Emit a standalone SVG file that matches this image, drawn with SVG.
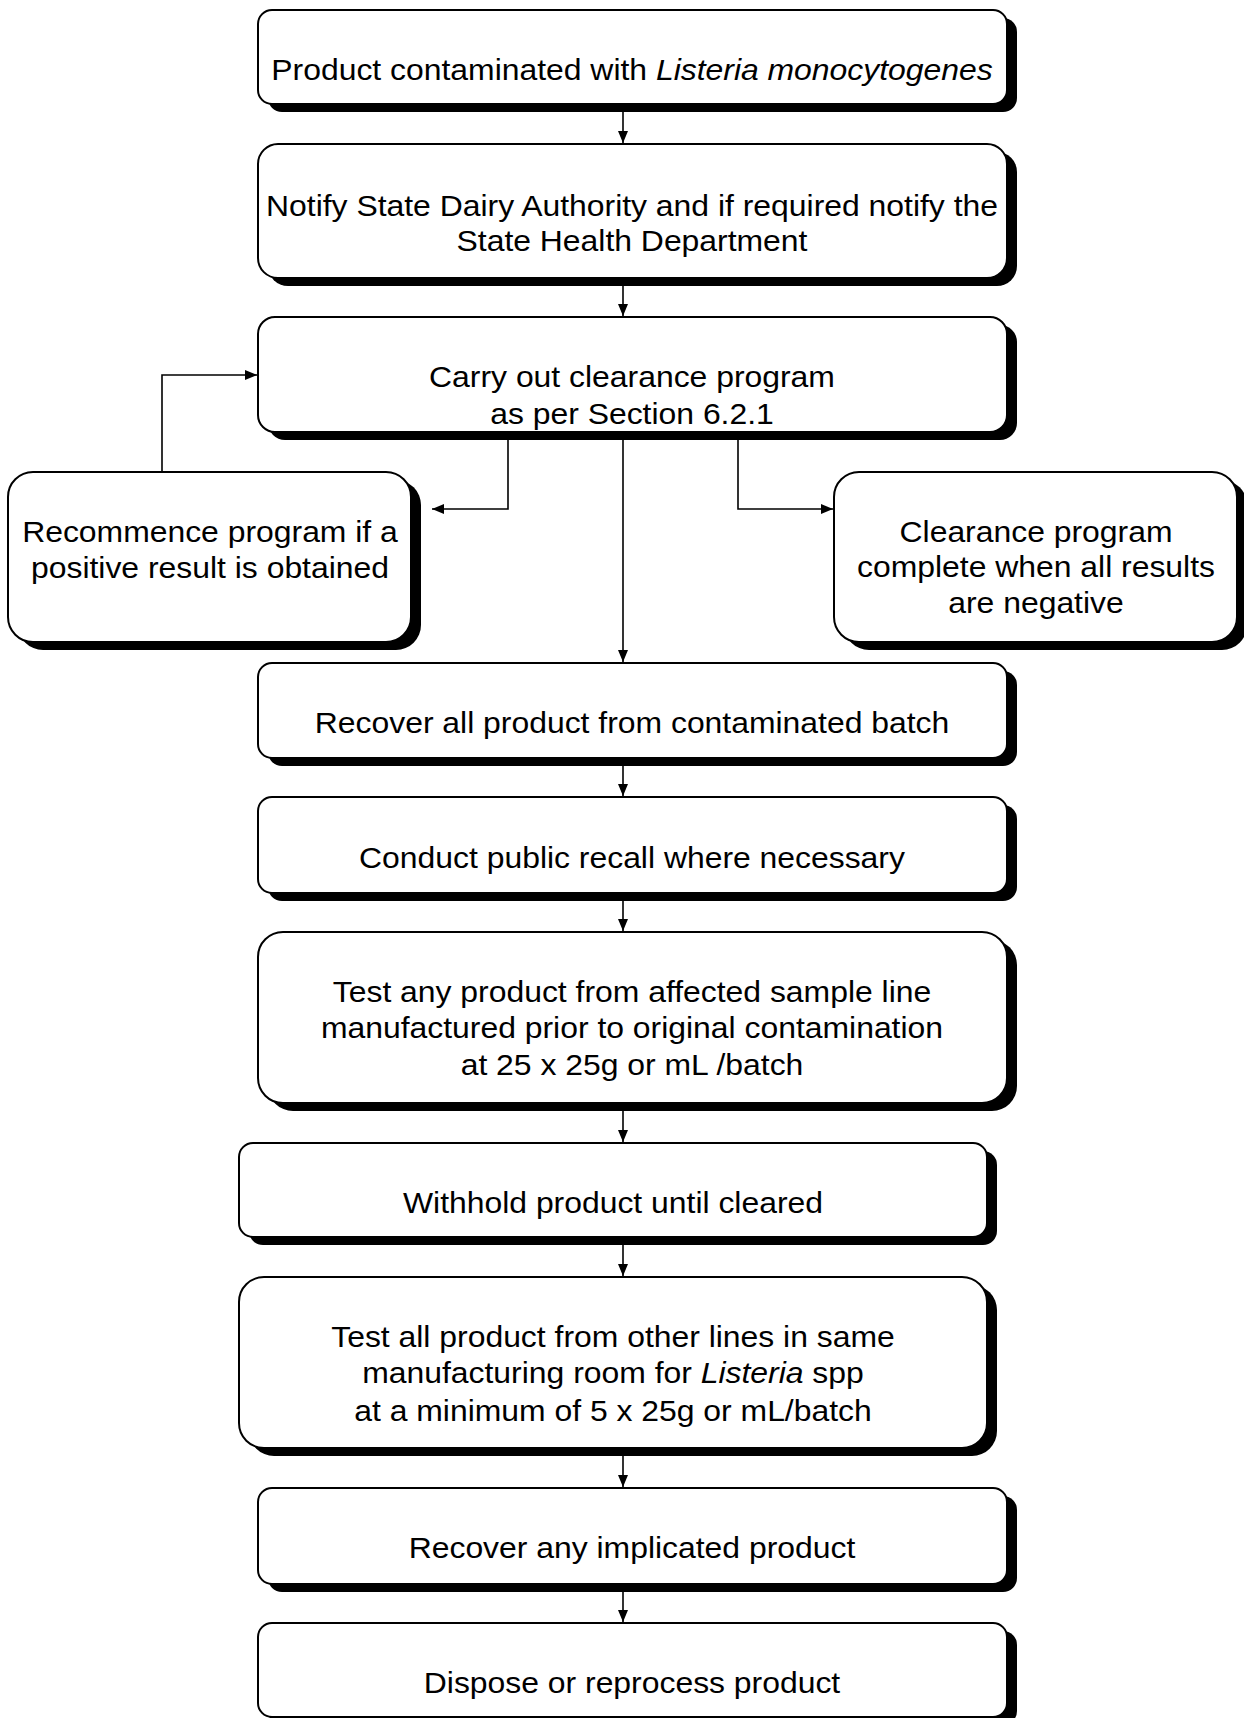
<svg xmlns="http://www.w3.org/2000/svg" width="1244" height="1718" viewBox="0 0 1244 1718">
<style>
.sh{fill:#000;stroke:none}
.bx{fill:#fff;stroke:#000;stroke-width:2}
.t{font-family:"Liberation Sans",Arial,sans-serif;font-size:29px;fill:#000;text-anchor:middle}
.i{font-style:italic}
.c{fill:none;stroke:#000;stroke-width:1.6}
</style>
<defs>
<marker id="ah" viewBox="0 0 12 10" markerWidth="12" markerHeight="10" refX="12" refY="5" orient="auto" markerUnits="userSpaceOnUse">
<path d="M0,0 L12,5 L0,10 z" fill="#000"/>
</marker>
</defs>
<rect width="1244" height="1718" fill="#fff"/>
<g id="connectors">
<path class="c" marker-end="url(#ah)" d="M623 112 V143"/>
<path class="c" marker-end="url(#ah)" d="M623 285 V316"/>
<path class="c" marker-end="url(#ah)" d="M623 438 V662"/>
<path class="c" marker-end="url(#ah)" d="M508 438 V509 H432"/>
<path class="c" marker-end="url(#ah)" d="M738 438 V509 H833"/>
<path class="c" marker-end="url(#ah)" d="M162 471 V375 H257"/>
<path class="c" marker-end="url(#ah)" d="M623 765 V796"/>
<path class="c" marker-end="url(#ah)" d="M623 900 V931"/>
<path class="c" marker-end="url(#ah)" d="M623 1110 V1142"/>
<path class="c" marker-end="url(#ah)" d="M623 1245 V1276"/>
<path class="c" marker-end="url(#ah)" d="M623 1456 V1487"/>
<path class="c" marker-end="url(#ah)" d="M623 1591 V1622"/>
</g>
<g id="n1">
<rect class="sh" x="268" y="18" width="749" height="94" rx="14"/>
<rect class="bx" x="258" y="10" width="749" height="94" rx="14"/>
<g transform="matrix(1.1 0 0 1 -63.2 0)">
<text class="t" x="632" y="80">Product contaminated with <tspan class="i">Listeria monocytogenes</tspan></text>
</g>
</g>
<g id="n2">
<rect class="sh" x="268" y="152" width="749" height="134" rx="20"/>
<rect class="bx" x="258" y="144" width="749" height="134" rx="20"/>
<g transform="matrix(1.1 0 0 1 -63.2 0)">
<text class="t" x="632" y="216">Notify State Dairy Authority and if required notify the</text>
<text class="t" x="632" y="251">State Health Department</text>
</g>
</g>
<g id="n3">
<rect class="sh" x="268" y="325" width="749" height="115" rx="17"/>
<rect class="bx" x="258" y="317" width="749" height="115" rx="17"/>
<g transform="matrix(1.1 0 0 1 -63.2 0)">
<text class="t" x="632" y="387">Carry out clearance program</text>
<text class="t" x="632" y="424">as per Section 6.2.1</text>
</g>
</g>
<g id="nL">
<rect class="sh" x="18" y="480" width="403" height="170" rx="25"/>
<rect class="bx" x="8" y="472" width="403" height="170" rx="25"/>
<g transform="matrix(1.1 0 0 1 -21 0)">
<text class="t" x="210" y="542">Recommence program if a</text>
<text class="t" x="210" y="578">positive result is obtained</text>
</g>
</g>
<g id="nR">
<rect class="sh" x="844" y="480" width="403" height="170" rx="25"/>
<rect class="bx" x="834" y="472" width="403" height="170" rx="25"/>
<g transform="matrix(1.1 0 0 1 -103.6 0)">
<text class="t" x="1036" y="542">Clearance program</text>
<text class="t" x="1036" y="577">complete when all results</text>
<text class="t" x="1036" y="613">are negative</text>
</g>
</g>
<g id="n4">
<rect class="sh" x="268" y="671" width="749" height="95" rx="14"/>
<rect class="bx" x="258" y="663" width="749" height="95" rx="14"/>
<g transform="matrix(1.1 0 0 1 -63.2 0)">
<text class="t" x="632" y="733">Recover all product from contaminated batch</text>
</g>
</g>
<g id="n5">
<rect class="sh" x="268" y="805" width="749" height="96" rx="14"/>
<rect class="bx" x="258" y="797" width="749" height="96" rx="14"/>
<g transform="matrix(1.1 0 0 1 -63.2 0)">
<text class="t" x="632" y="868">Conduct public recall where necessary</text>
</g>
</g>
<g id="n6">
<rect class="sh" x="268" y="940" width="749" height="171" rx="25"/>
<rect class="bx" x="258" y="932" width="749" height="171" rx="25"/>
<g transform="matrix(1.1 0 0 1 -63.2 0)">
<text class="t" x="632" y="1002">Test any product from affected sample line</text>
<text class="t" x="632" y="1038">manufactured prior to original contamination</text>
<text class="t" x="632" y="1075">at 25 x 25g or mL /batch</text>
</g>
</g>
<g id="n7">
<rect class="sh" x="249" y="1151" width="748" height="94" rx="14"/>
<rect class="bx" x="239" y="1143" width="748" height="94" rx="14"/>
<g transform="matrix(1.1 0 0 1 -61.3 0)">
<text class="t" x="613" y="1213">Withhold product until cleared</text>
</g>
</g>
<g id="n8">
<rect class="sh" x="249" y="1285" width="748" height="171" rx="25"/>
<rect class="bx" x="239" y="1277" width="748" height="171" rx="25"/>
<g transform="matrix(1.1 0 0 1 -61.3 0)">
<text class="t" x="613" y="1347">Test all product from other lines in same</text>
<text class="t" x="613" y="1383">manufacturing room for <tspan class="i">Listeria</tspan> spp</text>
<text class="t" x="613" y="1421">at a minimum of 5 x 25g or mL/batch</text>
</g>
</g>
<g id="n9">
<rect class="sh" x="268" y="1496" width="749" height="96" rx="14"/>
<rect class="bx" x="258" y="1488" width="749" height="96" rx="14"/>
<g transform="matrix(1.1 0 0 1 -63.2 0)">
<text class="t" x="632" y="1558">Recover any implicated product</text>
</g>
</g>
<g id="n10">
<rect class="sh" x="268" y="1631" width="749" height="94" rx="14"/>
<rect class="bx" x="258" y="1623" width="749" height="94" rx="14"/>
<g transform="matrix(1.1 0 0 1 -63.2 0)">
<text class="t" x="632" y="1693">Dispose or reprocess product</text>
</g>
</g>
</svg>
